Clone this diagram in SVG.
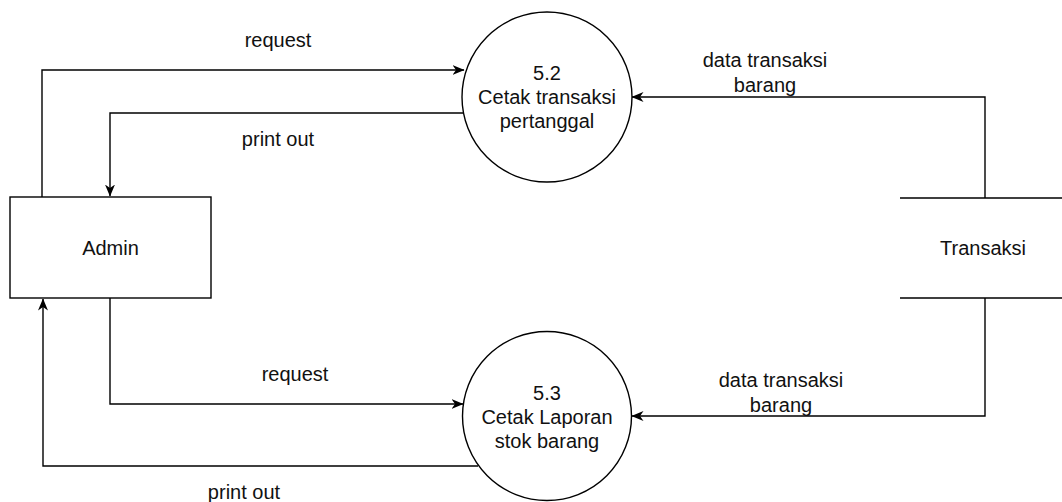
<svg xmlns="http://www.w3.org/2000/svg" width="1062" height="502" viewBox="0 0 1062 502">
  <style>
    .shape { fill: #ffffff; stroke: #000000; stroke-width: 1.4; }
    .line { fill: none; stroke: #000000; stroke-width: 1.4; }
    .flow { fill: none; stroke: #000000; stroke-width: 1.4; marker-end: url(#arrow); }
    text { font-family: "Liberation Sans", Arial, sans-serif; font-size: 20px; fill: #111111; text-anchor: middle; dominant-baseline: central; }
  </style>
  <defs>
    <marker id="arrow" viewBox="0 0 12 10" refX="11.5" refY="5" markerWidth="12" markerHeight="10" markerUnits="userSpaceOnUse" orient="auto">
      <path d="M0,0 L12,5 L0,10 L3.5,5 Z" fill="#000000" stroke="none"/>
    </marker>
  </defs>
  <rect width="1062" height="502" fill="#ffffff"/>

  <g id="connectors">
    <path class="flow" d="M42,197 V70 H464"/>
    <path class="flow" d="M463,113 H110 V196"/>
    <path class="flow" d="M110,298 V404 H463"/>
    <path class="flow" d="M478,466 H43 V299"/>
    <path class="flow" d="M985,198 V97 H632"/>
    <path class="flow" d="M985,298 V416 H632"/>
    <g id="labels">
      <text x="278" y="40">request</text>
      <text x="278" y="139">print out</text>
      <text x="295" y="374">request</text>
      <text x="244" y="492">print out</text>
      <text x="765" y="60">data transaksi</text>
      <text x="765" y="85">barang</text>
      <text x="781" y="380">data transaksi</text>
      <text x="781" y="405">barang</text>
    </g>
  </g>

  <g id="admin">
    <rect class="shape" x="10" y="197" width="201" height="101"/>
    <text x="110.5" y="248">Admin</text>
  </g>

  <g id="proc52">
    <circle class="shape" cx="547" cy="97" r="85"/>
    <text x="547" y="73">5.2</text>
    <text x="547" y="97">Cetak transaksi</text>
    <text x="547" y="121">pertanggal</text>
  </g>

  <g id="proc53">
    <circle class="shape" cx="547" cy="416" r="84.5"/>
    <text x="547" y="393">5.3</text>
    <text x="547" y="417">Cetak Laporan</text>
    <text x="547" y="441">stok barang</text>
  </g>

  <g id="transaksi">
    <path class="line" d="M900,198 H1062 M900,298 H1062"/>
    <text x="983" y="248">Transaksi</text>
  </g>
</svg>
